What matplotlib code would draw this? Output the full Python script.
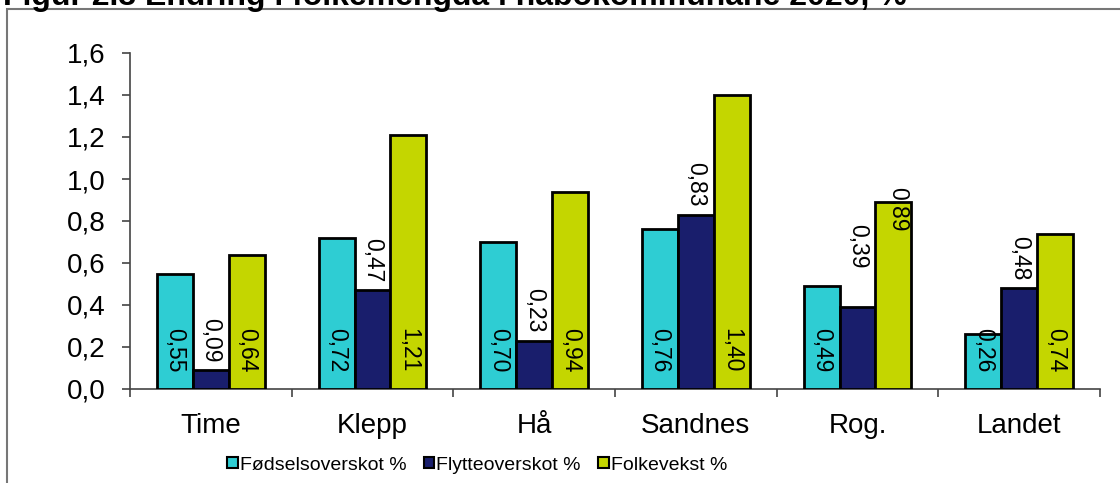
import matplotlib.pyplot as plt
from matplotlib.patches import Rectangle
import numpy as np

plt.rcParams['font.family'] = ['Liberation Sans', 'DejaVu Sans']

kommunar = ['Time', 'Klepp', 'Hå', 'Sandnes', 'Rog.', 'Landet']
fodsel = [0.55, 0.72, 0.70, 0.76, 0.49, 0.26]
flytte = [0.09, 0.47, 0.23, 0.83, 0.39, 0.48]
folkevekst = [0.64, 1.21, 0.94, 1.40, 0.89, 0.74]
serienamn = ['Fødselsoverskot %', 'Flytteoverskot %', 'Folkevekst %']
fargar = ['#2ECDD3', '#191E6C', '#C4D600']

PT = 0.72  # px -> pt ved dpi 100

fig = plt.figure(figsize=(11.2, 4.83), dpi=100)
ax = fig.add_axes([130/1120, 1 - 389/483, 970/1120, 336/483])

x = np.arange(len(kommunar))
w = 0.2226
bars = []
for i, (serie, farge) in enumerate(zip([fodsel, flytte, folkevekst], fargar)):
    b = ax.bar(x + (i - 1) * w, serie, w, color=farge, edgecolor='black',
               linewidth=2, label=serienamn[i], zorder=3)
    bars.append(b)

def tekst(v):
    return f'{v:.2f}'.replace('.', ',')

# etikettar
for j in range(len(kommunar)):
    # fødselsoverskot: inne ved basen
    ax.annotate(tekst(fodsel[j]), xy=(x[j] - w, 0), xytext=(0, 17*PT),
                textcoords='offset points', rotation=270, ha='center',
                va='bottom', fontsize=16.5, zorder=5)
    # flytteoverskot: over stolpen
    gap = 39 if j == 4 else 8
    ax.annotate(tekst(flytte[j]), xy=(x[j], flytte[j]), xytext=(0, gap*PT),
                textcoords='offset points', rotation=270, ha='center',
                va='bottom', fontsize=16.5, zorder=5)
    # folkevekst
    if j == 4:
        ax.annotate(tekst(folkevekst[j]), xy=(x[j] + w, folkevekst[j]),
                    xytext=(4*PT, 15*PT), textcoords='offset points',
                    rotation=270, ha='center', va='top', fontsize=16.5, zorder=5)
    else:
        ax.annotate(tekst(folkevekst[j]), xy=(x[j] + w, 0), xytext=(0, 17*PT),
                    textcoords='offset points', rotation=270, ha='center',
                    va='bottom', fontsize=16.5, zorder=5)

ax.set_ylim(0, 1.6)
ax.set_xlim(-0.5, len(kommunar) - 0.5)
ax.set_yticks(np.arange(0, 1.61, 0.2))
ax.set_yticklabels([f'{v:.1f}'.replace('.', ',') for v in np.arange(0, 1.61, 0.2)])
ax.set_xticks(x)
ax.set_xticklabels(kommunar)
ax.set_xticks(np.arange(-0.5, len(kommunar)), minor=True)
ax.tick_params(axis='x', which='major', length=0, pad=17, labelsize=20)
ax.tick_params(axis='x', which='minor', length=8*PT, width=1.2, color='#444444')
ax.tick_params(axis='y', length=8*PT, width=1.2, pad=12, labelsize=20, color='#444444')
for s in ['top', 'right']:
    ax.spines[s].set_visible(False)
for s in ['left', 'bottom']:
    ax.spines[s].set_color('#444444')
    ax.spines[s].set_linewidth(1.2)

leg = fig.legend(handles=bars, labels=serienamn, loc='center left',
                 bbox_to_anchor=(227/1120, 1 - 465/483), ncol=3, frameon=False,
                 borderpad=0, borderaxespad=0, handlelength=0.55, handleheight=0.55,
                 handletextpad=0.1, columnspacing=0.9, fontsize=14)
for h in leg.legend_handles:
    h.set_linewidth(1.5)

# ramme rundt figuren
fig.patches.append(Rectangle((7/1120, -0.1), 1.2, 1.1 - 9/483, transform=fig.transFigure,
                             fill=False, edgecolor='#777777', linewidth=1.5))

fig.text(3/1120, 1 - 5/483, 'Figur 2.3 Endring i folkemengda i nabokommunane 2020, %',
         fontsize=23, fontweight='bold', va='baseline', ha='left')

fig.savefig('out.png', dpi=100)
